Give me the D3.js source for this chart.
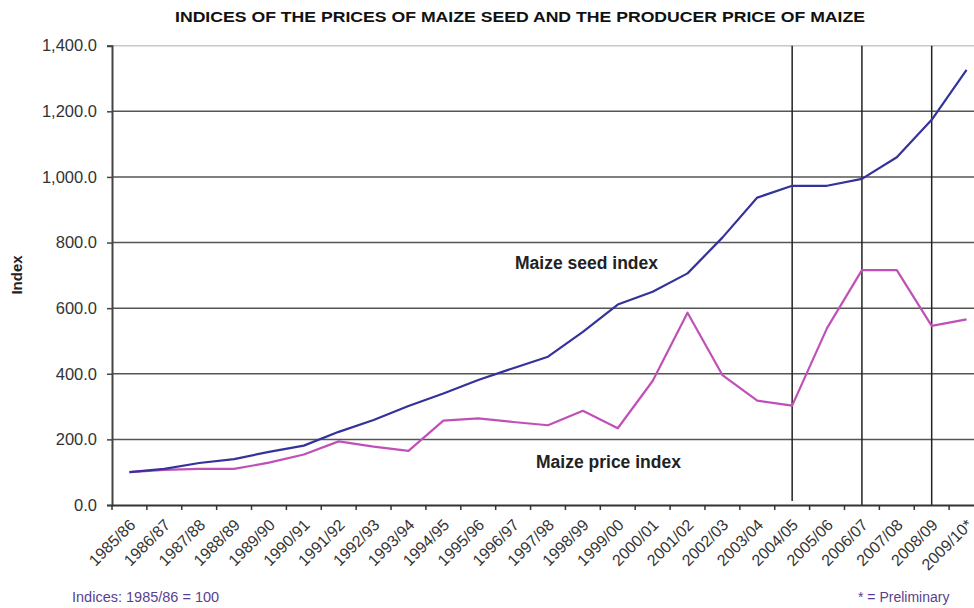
<!DOCTYPE html>
<html><head><meta charset="utf-8">
<script src="https://cdn.jsdelivr.net/npm/d3@7"></script>
<style>body{margin:0;background:#fff}svg{display:block}</style>
</head><body><svg id="c" width="974" height="608"></svg>
<script>
const categories = ["1985/86","1986/87","1987/88","1988/89","1989/90","1990/91","1991/92","1992/93","1993/94","1994/95","1995/96","1996/97","1997/98","1998/99","1999/00","2000/01","2001/02","2002/03","2003/04","2004/05","2005/06","2006/07","2007/08","2008/09","2009/10*"];
const seedIndex = [100,110,128,140,162,181,223,259,302,340,381,417,452,528,611,650,706,815,937,973,973,994,1060,1174,1326];
const priceIndex = [100,107,110,110,129,154,194,178,165,257,264,253,243,287,234,378,586,396,318,303,539,716,716,546,566];
const yTicks = [0,200,400,600,800,1000,1200,1400];
const markedYears = ["2004/05","2006/07","2008/09"];

const svg = d3.select("#c");
const x = d3.scaleBand().domain(categories).range([112, 984]).paddingInner(0).paddingOuter(0);
const y = d3.scaleLinear().domain([0,1400]).range([505, 45.7]);
const fmt = d3.format(",.1f");
const FONT = "Liberation Sans, Arial, sans-serif";

// title
svg.append("text").attr("x", 520).attr("y", 22).attr("text-anchor","middle")
  .attr("font-family",FONT).attr("font-weight","bold")
  .attr("font-size",15).attr("fill","#111").attr("textLength",690).attr("lengthAdjust","spacingAndGlyphs")
  .text("INDICES OF THE PRICES OF MAIZE  SEED AND THE PRODUCER PRICE OF MAIZE");

// gridlines
svg.append("g").selectAll("line").data(yTicks.filter(d=>d>0)).join("line")
  .attr("x1",112).attr("x2",984).attr("y1",d=>y(d)).attr("y2",d=>y(d))
  .attr("stroke",d=>d===1400?"#c8c8c8":"#555").attr("stroke-width",1.5);

// vertical marker lines
svg.append("g").selectAll("line").data(markedYears).join("line")
  .attr("x1",d=>x(d)+x.bandwidth()/2).attr("x2",d=>x(d)+x.bandwidth()/2)
  .attr("y1",y(1400)).attr("y2",(d,i)=>i===0?y(12):y(0))
  .attr("stroke","#222").attr("stroke-width",1.5);

// y axis
const ya = svg.append("g").attr("transform","translate(112,0)")
  .call(d3.axisLeft(y).tickValues(yTicks).tickFormat(fmt).tickSize(5).tickPadding(10));
ya.select(".domain").attr("stroke","#444").attr("stroke-width",2);
ya.selectAll(".tick line").attr("stroke","#444").attr("stroke-width",1.5);
ya.selectAll("text").attr("font-family",FONT).attr("font-size",16.5).attr("fill","#333");

// x axis
const xa = svg.append("g").attr("transform","translate(0,505)")
  .call(d3.axisBottom(x).tickSize(0).tickPadding(0));
xa.select(".domain").attr("stroke","#333").attr("stroke-width",2);
xa.selectAll(".tick text")
  .attr("font-family",FONT).attr("font-size",16).attr("fill","#333")
  .attr("text-anchor","end").attr("dy",null).attr("y",0)
  .attr("transform","translate(7,21) rotate(-45)");
// category boundary ticks
svg.append("g").selectAll("line").data(categories).join("line")
  .attr("x1",d=>x(d)).attr("x2",d=>x(d)).attr("y1",505).attr("y2",510)
  .attr("stroke","#333").attr("stroke-width",1.5);

// lines
const line = d3.line().x((d,i)=>x(categories[i])+x.bandwidth()/2).y(d=>y(d));
svg.append("path").datum(priceIndex).attr("d",line).attr("fill","none")
  .attr("stroke","#c050b8").attr("stroke-width",2.2).attr("stroke-linejoin","round");
svg.append("path").datum(seedIndex).attr("d",line).attr("fill","none")
  .attr("stroke","#33339a").attr("stroke-width",2.2).attr("stroke-linejoin","round");

// series labels
svg.append("text").attr("x",515).attr("y",269).attr("font-family",FONT)
  .attr("font-weight","bold").attr("font-size",17.5).attr("fill","#222").text("Maize seed index");
svg.append("text").attr("x",536).attr("y",468).attr("font-family",FONT)
  .attr("font-weight","bold").attr("font-size",17.5).attr("fill","#222").text("Maize price index");

// y title
svg.append("text").attr("transform","translate(22,275) rotate(-90)").attr("text-anchor","middle")
  .attr("font-family",FONT).attr("font-weight","bold")
  .attr("font-size",15).attr("fill","#222").text("Index");

// footnotes
svg.append("text").attr("x",72).attr("y",602).attr("font-family",FONT)
  .attr("font-size",14.5).attr("fill","#5a3f8f").text("Indices: 1985/86  = 100");
svg.append("text").attr("x",858).attr("y",602).attr("font-family",FONT)
  .attr("font-size",14).attr("fill","#5a3f8f").text("* = Preliminary");
</script></body></html>
